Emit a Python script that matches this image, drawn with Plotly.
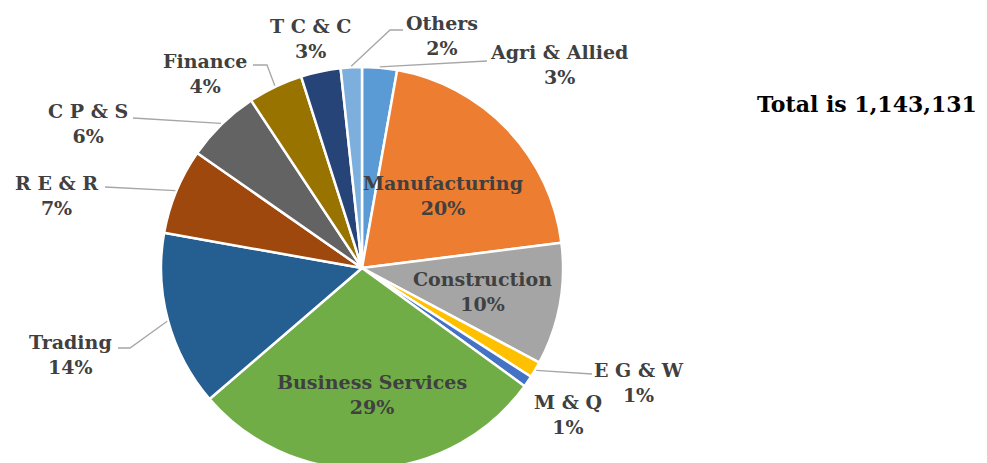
import math
import plotly.graph_objects as go

# ---- data ----
sectors = ["Agri & Allied", "Manufacturing", "Construction", "E G & W", "M & Q",
           "Business Services", "Trading", "R E & R", "C P & S", "Finance",
           "T C & C", "Others"]
counts = [32008, 230912, 112027, 14861, 10288, 328079, 161181, 78876, 68588,
          50298, 36580, 19433]
colors = ["#5B9BD5", "#ED7D31", "#A5A5A5", "#FFC000", "#4472C4", "#70AD47",
          "#255E91", "#9E480E", "#636363", "#997300", "#264478", "#7CAFDD"]
total = sum(counts)

# ---- layout helpers (window pixel -> paper; page body has 8px margin) ----
W, H = 987, 463
OFF = 8
CX, CY, R = 362, 268, 201


def px(x, y):
    return (x - OFF) / W, 1 - (y - OFF) / H


# label block centres (window pixels) and leader-line elbows
label_pos = {
    "Agri & Allied": (559, 65), "Manufacturing": (443, 196),
    "Construction": (482, 291), "E G & W": (639, 382), "M & Q": (568, 414),
    "Business Services": (372, 394), "Trading": (70, 354), "R E & R": (56, 195),
    "C P & S": (88, 124), "Finance": (205, 74), "T C & C": (310, 38),
    "Others": (442, 35),
}
leaders = {
    "Agri & Allied": [(487, 61)],
    "Others": [(403, 30), (390, 30)],
    "Finance": [(253, 65), (267, 65)],
    "C P & S": [(133, 118)],
    "R E & R": [(105, 187)],
    "Trading": [(118, 348), (130, 348)],
    "E G & W": [(592, 374)],
}

fig = go.Figure(go.Pie(
    labels=sectors, values=counts, sort=False, direction="clockwise",
    rotation=0, marker=dict(colors=colors, line=dict(color="white", width=2.5)),
    textinfo="none", hoverinfo="label+value+percent", showlegend=False,
    domain=dict(x=[(CX - OFF - R) / W, (CX - OFF + R) / W],
                y=[1 - (CY - OFF + R) / H, 1 - (CY - OFF - R) / H]),
))

annotations = []
shapes = []
cum = 0
for name, v in zip(sectors, counts):
    mid = (cum + v / 2) / total * 2 * math.pi
    cum += v
    pct = round(v / total * 100)
    lx, ly = label_pos[name]
    x, y = px(lx, ly)
    annotations.append(dict(
        x=x, y=y, xref="paper", yref="paper", xanchor="center", yanchor="middle",
        text=f"<b>{name}<br>{pct}%</b>", showarrow=False,
        font=dict(family="DejaVu Serif", size=19, color="#404040"),
    ))
    if name in leaders:
        sx = CX + (R + 1) * math.sin(mid)
        sy = CY - (R + 1) * math.cos(mid)
        pts = leaders[name] + [(sx, sy)]
        path = "M " + " L ".join(f"{px(a, b)[0]:.5f},{px(a, b)[1]:.5f}" for a, b in pts)
        shapes.append(dict(type="path", path=path, xref="paper", yref="paper",
                           line=dict(color="#A6A6A6", width=1.3)))

tx, ty = px(979, 104)
annotations.append(dict(
    x=tx, y=ty, xref="paper", yref="paper", xanchor="right", yanchor="middle",
    text=f"<b>Total is {total:,}</b>", showarrow=False,
    font=dict(family="DejaVu Serif", size=22, color="#000000"),
))

fig.update_layout(
    width=W, height=H, margin=dict(l=0, r=0, t=0, b=0),
    paper_bgcolor="white", plot_bgcolor="white",
    annotations=annotations, shapes=shapes,
)

fig.write_html("out.html")
